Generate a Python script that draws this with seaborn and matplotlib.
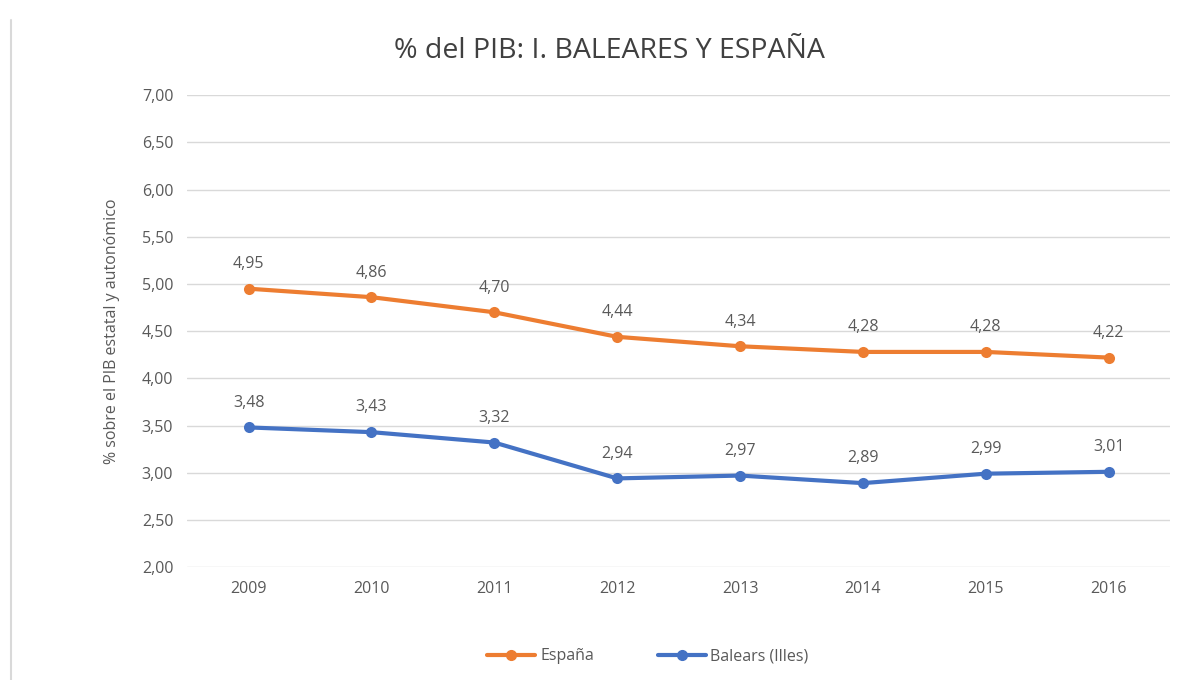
import matplotlib
matplotlib.use("Agg")
import matplotlib.pyplot as plt
import seaborn as sns
import pandas as pd
from matplotlib.lines import Line2D

years = ["2009", "2010", "2011", "2012", "2013", "2014", "2015", "2016"]
espana = [4.95, 4.86, 4.70, 4.44, 4.34, 4.28, 4.28, 4.22]
baleares = [3.48, 3.43, 3.32, 2.94, 2.97, 2.89, 2.99, 3.01]
series_names = ["España", "Balears (Illes)"]
colors = ["#ED7D31", "#4472C4"]
yticks = [2.0, 2.5, 3.0, 3.5, 4.0, 4.5, 5.0, 5.5, 6.0, 6.5, 7.0]

df = pd.DataFrame({
    "year": years * 2,
    "x": list(range(len(years))) * 2,
    "value": espana + baleares,
    "serie": [series_names[0]] * len(years) + [series_names[1]] * len(years),
})

sns.set_theme(style="white")
plt.rcParams["font.family"] = ["Open Sans", "DejaVu Sans"]

fig = plt.figure(figsize=(12, 6.8), dpi=100)
ax = fig.add_axes([0.156, 0.166, 0.819, 0.694])

sns.lineplot(data=df, x="x", y="value", hue="serie", palette=colors,
             marker="o", markersize=8, markeredgewidth=0, linewidth=3,
             ax=ax, legend=False)

txt = "#595959"
for vals in (espana, baleares):
    for i, v in enumerate(vals):
        ax.annotate(f"{v:.2f}".replace(".", ","), (i, v), xytext=(0, 12),
                    textcoords="offset points", ha="center", va="bottom",
                    fontsize=11.5, color=txt)

ax.set_xlim(-0.5, len(years) - 0.5)
ax.set_ylim(2.0, 7.0)
ax.set_xticks(range(len(years)))
ax.set_xticklabels(years)
ax.set_yticks(yticks)
ax.set_yticklabels([f"{t:.2f}".replace(".", ",") for t in yticks])
ax.tick_params(axis="both", labelsize=11.5, colors=txt, length=0, pad=10)
ax.yaxis.grid(True, color="#D9D9D9", linewidth=1)
ax.set_axisbelow(True)
for s in ax.spines.values():
    s.set_visible(False)
ax.set_xlabel("")
ax.set_ylabel("% sobre el PIB estatal y autonómico", fontsize=11.5, color=txt, labelpad=16)

fig.suptitle("% del PIB: I. BALEARES Y ESPAÑA", x=0.508, y=0.945, fontsize=20.5, color="#404040")

handles = [Line2D([0], [0], color=c, lw=3, marker="o", markersize=7) for c in colors]
fig.legend(handles, series_names, loc="center", bbox_to_anchor=(0.54, 0.035), ncol=2,
           frameon=False, fontsize=11.5, labelcolor=txt, columnspacing=4, handlelength=3,
           handletextpad=0.3)

fig.add_artist(Line2D([0.009, 0.009], [0.0, 0.97], color="#D9D9D9", lw=1.5,
                      transform=fig.transFigure))

fig.savefig("out.png", dpi=100, facecolor="white")
